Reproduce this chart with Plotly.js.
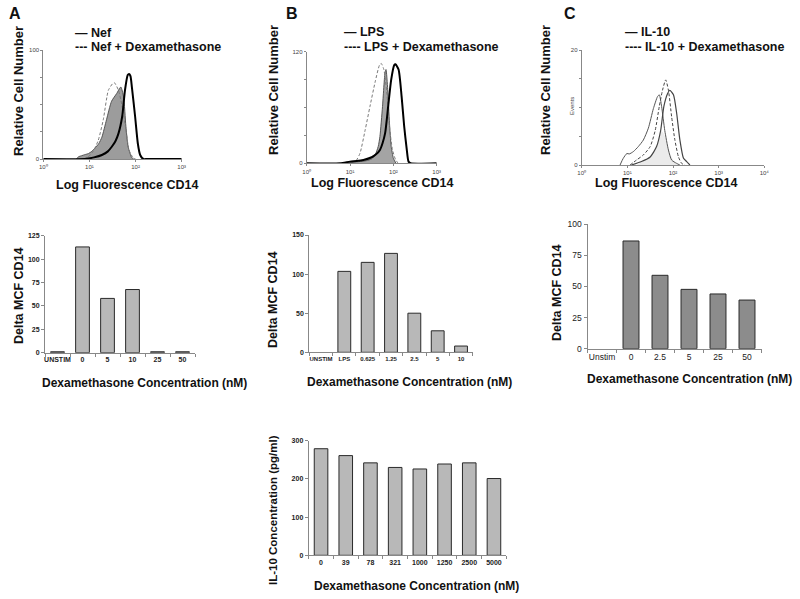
<!DOCTYPE html>
<html>
<head>
<meta charset="utf-8">
<script src="https://cdn.plot.ly/plotly-3.0.1.min.js"></script>
<style>html,body{margin:0;padding:0;background:#fff;}#chart{width:800px;height:599px;}</style>
</head>
<body>
<div id="chart"></div>
<script>
// ---------- Panel A histogram (x = log10 fluorescence, y = % of max count) ----------
const histA_fill_x = [0.72, 0.76, 0.83, 0.90, 0.98, 1.05, 1.12, 1.20, 1.27, 1.37, 1.48, 1.59, 1.68, 1.74, 1.79, 1.84, 1.92, 1.96];
const histA_fill_y = [0, 2, 3, 4, 5, 7, 10, 14, 20, 36, 53, 60, 66, 57, 30, 11, 1, 0];
const histA_dex_x = [0.88, 0.95, 1.08, 1.19, 1.30, 1.41, 1.50, 1.54, 1.63, 1.71, 1.79, 1.86, 1.95, 2.00];
const histA_dex_y = [0, 1, 7, 17, 36, 63, 69, 70, 63, 48, 27, 8, 1, 0];
const histA_nef_x = [0.00, 0.90, 0.98, 1.10, 1.27, 1.40, 1.48, 1.56, 1.63, 1.71, 1.77, 1.83, 1.86, 1.89, 1.92, 1.99, 2.05, 2.10, 2.17, 2.25, 3.00];
const histA_nef_y = [0, 0, 0.5, 1.5, 3.7, 7, 11, 16, 23.5, 39, 63, 77, 78, 76, 66, 39, 14, 3.7, 0, 0, 0];

// ---------- Panel B histogram ----------
const histB_fill_x = [0.85, 1.00, 1.20, 1.38, 1.50, 1.58, 1.65, 1.69, 1.75, 1.81, 1.83, 1.87, 1.91, 1.95, 2.00, 2.06];
const histB_fill_y = [0, 0.5, 1.5, 2.4, 4, 7.5, 15, 24, 51, 82, 84, 66, 36, 15, 4.5, 0];
const histB_dex_x = [1.05, 1.15, 1.23, 1.35, 1.46, 1.58, 1.68, 1.72, 1.78, 1.85, 1.91, 1.98, 2.06, 2.12];
const histB_dex_y = [0, 3, 9, 30, 51, 73, 88, 89.5, 84, 63, 33, 12, 2.4, 0];
const histB_lps_x = [0.00, 0.77, 1.00, 1.15, 1.31, 1.50, 1.60, 1.69, 1.75, 1.81, 1.88, 1.95, 2.02, 2.05, 2.12, 2.19, 2.25, 2.31, 2.35, 2.40, 3.00];
const histB_lps_y = [0, 0, 1.5, 2, 3, 5.4, 8, 12, 18, 27, 51, 75, 88, 88.7, 84, 60, 33, 12, 1.5, 0, 0];

// ---------- Panel C histogram ----------
const histC_fill_x = [1.20, 1.50, 1.64, 1.73, 1.79, 1.86, 1.93, 2.01, 2.08, 2.15];
const histC_fill_y = [0, 7, 16, 30, 28, 20, 10, 4, 1, 0];
const histC_ctrl_x = [0.84, 0.91, 0.99, 1.04, 1.13, 1.24, 1.35, 1.46, 1.57, 1.66, 1.70, 1.75, 1.82, 1.90, 1.97, 2.08, 2.15];
const histC_ctrl_y = [0, 5.8, 10, 9.6, 11.6, 16, 21.7, 32, 49, 59.4, 61, 51, 30, 13, 4.3, 1.4, 0];
const histC_il10_x = [1.09, 1.31, 1.50, 1.64, 1.73, 1.80, 1.88, 1.93, 2.01, 2.08, 2.15, 2.23, 2.30, 2.37];
const histC_il10_y = [0, 3, 7, 16, 30, 51, 62, 65, 61, 45, 22, 5.8, 3, 0];
const histC_dex_x = [1.06, 1.20, 1.35, 1.50, 1.61, 1.70, 1.77, 1.84, 1.90, 1.97, 2.04, 2.12, 2.19, 2.26];
const histC_dex_y = [0, 4.3, 8.7, 16, 30, 51, 65, 74, 65, 42, 22, 7, 1.4, 0];

// ---------- Bar charts ----------
const barA_cats = ["UNSTIM", "0", "5", "10", "25", "50"];
const barA_vals = [1, 113, 58, 67.5, 1, 1];
const barB_cats = ["UNSTIM", "LPS", "0.625", "1.25", "2.5", "5", "10"];
const barB_vals = [0, 103.5, 115, 126.5, 50, 27.5, 8];
const barC_cats = ["Unstim", "0", "2.5", "5", "25", "50"];
const barC_vals = [0, 86.6, 59, 47.7, 44, 39.1];
const barD_cats = ["0", "39", "78", "321", "1000", "1250", "2500", "5000"];
const barD_vals = [279, 261, 242, 230, 226, 239, 242, 201];

const logTicks3 = ["10\u2070", "10\u00B9", "10\u00B2", "10\u00B3"];
const logTicks4 = ["10\u2070", "10\u00B9", "10\u00B2", "10\u00B3", "10\u2074"];

const F = "Liberation Sans, Arial, sans-serif";
const W = 800, H = 599;
const px = v => v / W;
const py = v => 1 - v / H;

function line(x, y, xa, ya, color, width, dash, fill, fillcolor) {
  const t = {type: "scatter", mode: "lines", x: x, y: y, xaxis: xa, yaxis: ya,
    line: {color: color, width: width, dash: dash || "solid", shape: "spline", smoothing: 0.6},
    showlegend: false, hoverinfo: "skip"};
  if (fill) { t.fill = "tozeroy"; t.fillcolor = fillcolor; }
  return t;
}
function bar(cats, vals, xa, ya, color) {
  return {type: "bar", x: cats, y: vals, xaxis: xa, yaxis: ya, width: 0.55,
    marker: {color: color, line: {color: "#2a2a2a", width: vals.map(v => v > 0 ? 1 : 0)}},
    showlegend: false, hoverinfo: "skip"};
}

const data = [
  line(histA_fill_x, histA_fill_y, "x", "y", "#555", 1, "solid", true, "#9c9c9c"),
  line(histA_dex_x, histA_dex_y, "x", "y", "#7a7a7a", 1, "3px,2px"),
  line(histA_nef_x, histA_nef_y, "x", "y", "#000", 2),
  line(histB_fill_x, histB_fill_y, "x2", "y2", "#555", 1, "solid", true, "#a4a4a4"),
  line(histB_dex_x, histB_dex_y, "x2", "y2", "#7a7a7a", 1, "3px,2px"),
  line(histB_lps_x, histB_lps_y, "x2", "y2", "#000", 2),
  line(histC_fill_x, histC_fill_y, "x3", "y3", "rgba(0,0,0,0)", 0.5, "solid", true, "#ebebeb"),
  line(histC_ctrl_x, histC_ctrl_y, "x3", "y3", "#555", 1),
  line(histC_il10_x, histC_il10_y, "x3", "y3", "#444", 1.2),
  line(histC_dex_x, histC_dex_y, "x3", "y3", "#444", 1, "3px,2px"),
  bar(barA_cats, barA_vals, "x4", "y4", "#b8b8b8"),
  bar(barB_cats, barB_vals, "x5", "y5", "#b8b8b8"),
  bar(barC_cats, barC_vals, "x6", "y6", "#8c8c8c"),
  bar(barD_cats, barD_vals, "x7", "y7", "#b8b8b8")
];

function histX(x0, x1, y, n, ticks) {
  return {domain: [px(x0), px(x1)], range: [0, n], tickvals: ticks.map((_, i) => i), ticktext: ticks,
    tickfont: {family: F, size: 6, color: "#444"}, showline: true, linecolor: "#888", linewidth: 1,
    ticks: "outside", ticklen: 2, tickcolor: "#888", showgrid: false, zeroline: false, anchor: y, fixedrange: true, tickangle: 0};
}
function histY(y0, y1, x, top) {
  return {domain: [py(y1), py(y0)], range: [0, 100], tickvals: [0, 100], ticktext: ["0", top],
    tickfont: {family: F, size: 6, color: "#444"}, showline: true, linecolor: "#888", linewidth: 1,
    ticks: "outside", ticklen: 2, tickcolor: "#888",
    minor: {dtick: 25, tick0: 0, ticks: "outside", ticklen: 2, tickcolor: "#888", showgrid: false},
    showgrid: false, zeroline: false, anchor: x, fixedrange: true};
}
function barX(x0, x1, y, n, fs, bold) {
  return {type: "category", domain: [px(x0), px(x1)], range: [-0.5, n - 0.5], tickson: "boundaries", tickangle: 0,
    tickfont: {family: F, size: fs, color: "#222", weight: bold ? "bold" : "normal"}, showline: true, linecolor: "#888", linewidth: 1,
    ticks: "outside", ticklen: 3, tickcolor: "#888", showgrid: false, zeroline: false, anchor: y, fixedrange: true};
}
function barY(y0, y1, x, max, dt, fs, bold) {
  return {domain: [py(y1), py(y0)], range: [0, max], dtick: dt, tick0: 0,
    tickfont: {family: F, size: fs, color: "#222", weight: bold ? "bold" : "normal"}, showline: true, linecolor: "#888", linewidth: 1,
    ticks: "outside", ticklen: 3, tickcolor: "#888", showgrid: false, zeroline: false, anchor: x, fixedrange: true};
}

function ann(text, x, y, size, opt) {
  opt = opt || {};
  return {text: text, xref: "paper", yref: "paper", x: px(x), y: py(y), showarrow: false,
    xanchor: opt.xa || "center", yanchor: "middle", textangle: opt.angle || 0,
    font: {family: F, size: size, color: opt.color || "#111", weight: opt.normal ? "normal" : "bold"}};
}

const annotations = [
  ann("A", 15, 13, 16), ann("B", 292, 13, 16), ann("C", 570, 13, 16),
  ann("— Nef", 73, 33, 12.5, {xa: "left"}),
  ann("--- Nef + Dexamethasone", 73, 47, 12.5, {xa: "left"}),
  ann("— LPS", 342, 32, 12.5, {xa: "left"}),
  ann("---- LPS + Dexamethasone", 342, 47, 12.5, {xa: "left"}),
  ann("— IL-10", 623, 32, 12.5, {xa: "left"}),
  ann("---- IL-10 + Dexamethasone", 623, 47, 12.5, {xa: "left"}),
  ann("Relative Cell Number", 18, 91, 13, {angle: -90}),
  ann("Relative Cell Number", 273, 90, 13, {angle: -90}),
  ann("Relative Cell Number", 545, 90, 13, {angle: -90}),
  ann("Events", 572, 106, 6, {angle: -90, normal: true, color: "#444"}),
  ann("Log Fluorescence CD14", 127, 185, 12.5),
  ann("Log Fluorescence CD14", 382, 183, 12.5),
  ann("Log Fluorescence CD14", 666, 183, 12.5),
  ann("Delta MCF CD14", 19, 296, 12.5, {angle: -90}),
  ann("Delta MCF CD14", 273, 300, 12.5, {angle: -90}),
  ann("Delta MCF CD14", 557, 293, 12.5, {angle: -90}),
  ann("IL-10 Concentration (pg/ml)", 273, 510, 11.5, {angle: -90}),
  ann("Dexamethasone Concentration (nM)", 144, 383, 12),
  ann("Dexamethasone Concentration (nM)", 410, 382, 12),
  ann("Dexamethasone Concentration (nM)", 689, 379, 12),
  ann("Dexamethasone Concentration (nM)", 416, 586, 12)
];

const layout = {
  width: W, height: H, margin: {l: 0, r: 0, t: 0, b: 0},
  paper_bgcolor: "#fff", plot_bgcolor: "rgba(0,0,0,0)", showlegend: false,
  font: {family: F},
  xaxis: histX(43.3, 181.7, "y", 3, logTicks3),
  yaxis: histY(50, 159, "x", "100"),
  xaxis2: histX(306.7, 436.7, "y2", 3, logTicks3),
  yaxis2: histY(51.7, 163.3, "x2", "120"),
  xaxis3: histX(581.7, 764.3, "y3", 4, logTicks4),
  yaxis3: histY(50, 165, "x3", "20"),
  xaxis4: barX(45, 195, "y4", 6, 7, true),
  yaxis4: barY(235.7, 352.7, "x4", 125, 25, 7, true),
  xaxis5: barX(309.3, 472.7, "y5", 7, 6, true),
  yaxis5: barY(235, 352.3, "x5", 150, 50, 7, true),
  xaxis6: barX(587.5, 761.5, "y6", 6, 8.5, false),
  yaxis6: barY(224.3, 348.7, "x6", 100, 25, 8.5, false),
  xaxis7: barX(308.7, 506.3, "y7", 8, 7, true),
  yaxis7: barY(440.7, 555.3, "x7", 300, 100, 7, true),
  annotations: annotations
};

Plotly.newPlot("chart", data, layout, {staticPlot: true, displayModeBar: false});
</script>
</body>
</html>
